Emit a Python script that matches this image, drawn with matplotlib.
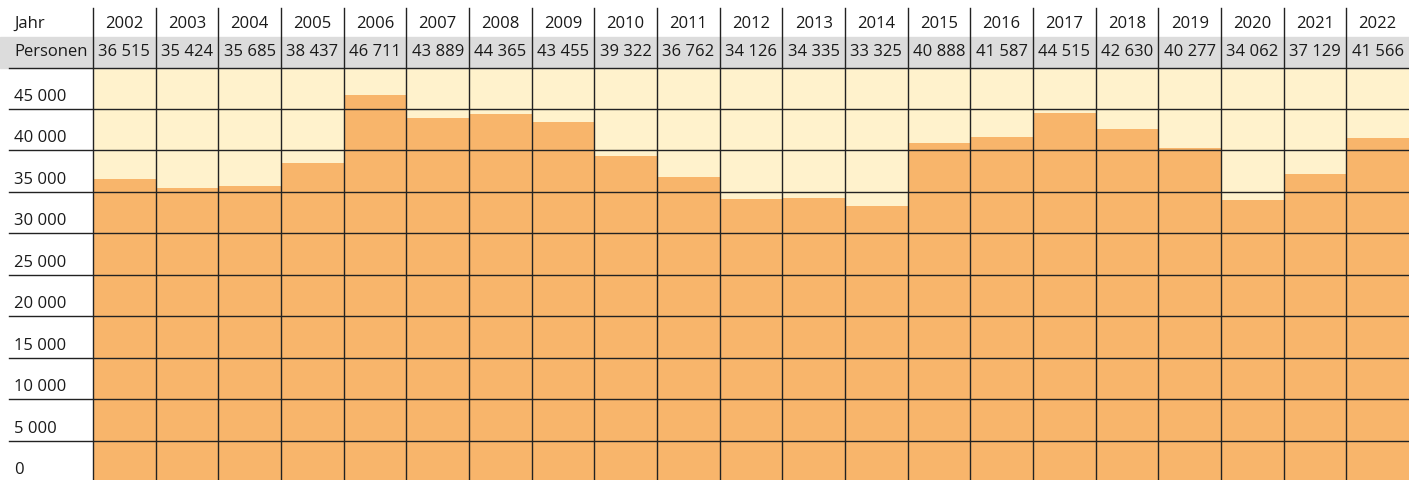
import matplotlib.pyplot as plt
from matplotlib.transforms import blended_transform_factory

# data
years = [2002, 2003, 2004, 2005, 2006, 2007, 2008, 2009, 2010, 2011, 2012,
         2013, 2014, 2015, 2016, 2017, 2018, 2019, 2020, 2021, 2022]
persons = [36515, 35424, 35685, 38437, 46711, 43889, 44365, 43455, 39322, 36762, 34126,
           34335, 33325, 40888, 41587, 44515, 42630, 40277, 34062, 37129, 41566]
y_ticks = [0, 5000, 10000, 15000, 20000, 25000, 30000, 35000, 40000, 45000]

plt.rcParams['font.family'] = ['Open Sans', 'DejaVu Sans']
plt.rcParams['font.size'] = 12

W, H = 1409, 480
fig = plt.figure(figsize=(W / 100, H / 100), dpi=100)
ax = fig.add_axes([93 / W, 0, 1 - 93 / W, (H - 67.5) / H])

yellow = '#fff2cc'
orange = '#f8b56b'
grey = '#dcdcdc'
line_c = '#222222'
text_c = '#1a1a1a'

ax.set_facecolor(yellow)
x = list(range(len(years)))
ax.bar(x, persons, width=1.0, align='edge', color=orange, zorder=2)
ax.set_xlim(0, len(years))
ax.set_ylim(300, 50000)
ax.set_xticks([])
ax.set_yticks([])
for s in ax.spines.values():
    s.set_visible(False)

def fy(p):
    # pixel from top -> figure fraction
    return (H - p) / H

tr_xd = blended_transform_factory(ax.transData, fig.transFigure)
tr_fd = blended_transform_factory(fig.transFigure, ax.transData)

# grey header band
ax.add_patch(plt.Rectangle((0, fy(67.5)), 1, fy(37) - fy(67.5),
                           transform=fig.transFigure, color=grey, zorder=0,
                           clip_on=False))

# horizontal gridlines, reaching into the label column
for t in y_ticks[1:]:
    ax.plot([9 / W, 1], [t, t], transform=tr_fd, color=line_c, lw=1.0,
            clip_on=False, zorder=4)
    ax.text(14 / W, t + 1450, f'{t:,}'.replace(',', ' '), transform=tr_fd,
            ha='left', va='center', color=text_c)
ax.text(14 / W, 0 + 1450, '0', transform=tr_fd, ha='left', va='center', color=text_c)
ax.plot([9 / W, 1], [fy(67.5), fy(67.5)], transform=fig.transFigure, color=line_c,
        lw=1.0, clip_on=False, zorder=4)

# vertical separators
for i in range(len(years)):
    ax.plot([i, i], [fy(480), fy(8)], transform=tr_xd, color=line_c, lw=1.0,
            clip_on=False, zorder=4)

# header rows
ax.text(14 / W, fy(24), 'Jahr', transform=fig.transFigure, ha='left', va='center', color=text_c)
ax.text(14 / W, fy(52), 'Personen', transform=fig.transFigure, ha='left', va='center', color=text_c)
for i, (yr, p) in enumerate(zip(years, persons)):
    ax.text(i + 0.5, fy(24), str(yr), transform=tr_xd, ha='center', va='center', color=text_c)
    ax.text(i + 0.5, fy(52), f'{p:,}'.replace(',', ' '), transform=tr_xd,
            ha='center', va='center', color=text_c)

fig.savefig('out.png', dpi=100)
